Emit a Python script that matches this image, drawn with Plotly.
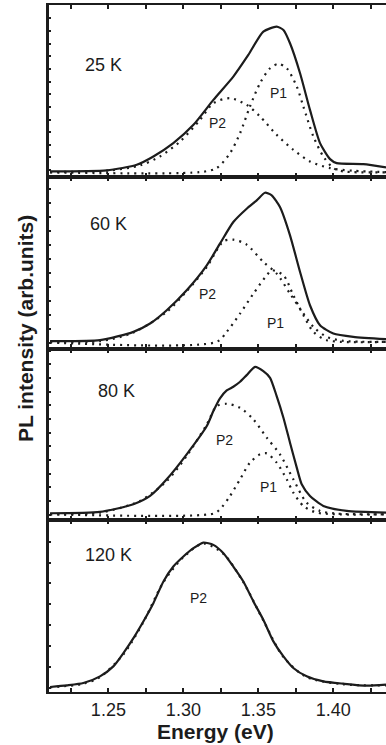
import plotly.graph_objects as go

# ---------------- data (energy in eV, PL intensity in arb. units) ----------------
# Panel 25 K
e_25 = [1.2111, 1.2489, 1.2689, 1.2800, 1.2933, 1.3067, 1.3200, 1.3333, 1.3433, 1.3533,
        1.3622, 1.3667, 1.3711, 1.3778, 1.3844, 1.3911, 1.3978, 1.4022, 1.4200, 1.4351]
i_25 = [16, 19, 36, 61, 101, 156, 231, 301, 366, 436, 451, 441, 401, 311, 201, 101, 53, 41, 38, 28]
e_25_p2 = [1.2111, 1.2511, 1.2711, 1.2844, 1.2978, 1.3111, 1.3200, 1.3311, 1.3422, 1.3511,
           1.3622, 1.3733, 1.3844, 1.3978, 1.4133, 1.4351]
i_25_p2 = [14, 19, 34, 61, 106, 171, 221, 236, 216, 181, 126, 81, 46, 26, 18, 14]
e_25_p1 = [1.2111, 1.3111, 1.3222, 1.3311, 1.3378, 1.3444, 1.3511, 1.3578, 1.3633, 1.3689,
           1.3756, 1.3800, 1.3867, 1.3933, 1.4000, 1.4067, 1.4351]
i_25_p1 = [13, 14, 26, 71, 131, 211, 281, 326, 339, 326, 271, 211, 121, 61, 26, 16, 13]

# Panel 60 K
e_60 = [1.2111, 1.2444, 1.2667, 1.2778, 1.2889, 1.3022, 1.3156, 1.3244, 1.3333, 1.3422,
        1.3489, 1.3544, 1.3589, 1.3644, 1.3711, 1.3778, 1.3844, 1.3911, 1.4000, 1.4133, 1.4351]
i_60 = [22, 25, 50, 75, 115, 175, 250, 315, 380, 420, 445, 468, 460, 425, 340, 230, 130, 70, 45, 35, 28]
e_60_p2 = [1.2111, 1.2444, 1.2667, 1.2889, 1.3022, 1.3156, 1.3267, 1.3333, 1.3422, 1.3533,
           1.3622, 1.3711, 1.3778, 1.3867, 1.3956, 1.4067, 1.4351]
i_60_p2 = [20, 22, 48, 110, 172, 245, 322, 327, 312, 260, 225, 165, 120, 65, 35, 23, 20]
e_60_p1 = [1.2111, 1.3222, 1.3289, 1.3378, 1.3467, 1.3556, 1.3589, 1.3667, 1.3733, 1.3800,
           1.3867, 1.3956, 1.4351]
i_60_p1 = [18, 20, 50, 105, 165, 220, 235, 220, 160, 100, 50, 25, 20]

# Panel 80 K
e_80 = [1.2111, 1.2444, 1.2667, 1.2778, 1.2889, 1.3022, 1.3156, 1.3200, 1.3244, 1.3289,
        1.3333, 1.3378, 1.3422, 1.3478, 1.3533, 1.3578, 1.3622, 1.3667, 1.3711, 1.3756,
        1.3789, 1.3844, 1.3933, 1.4089, 1.4351]
i_80 = [21, 25, 48, 73, 123, 198, 283, 328, 366, 390, 401, 416, 436, 461, 448, 428, 373,
        308, 233, 158, 108, 73, 43, 28, 23]
e_80_p2 = [1.2111, 1.2444, 1.2711, 1.2889, 1.3022, 1.3156, 1.3222, 1.3289, 1.3378, 1.3467,
           1.3556, 1.3644, 1.3733, 1.3822, 1.3911, 1.4022, 1.4351]
i_80_p2 = [18, 23, 58, 118, 193, 288, 343, 350, 338, 303, 248, 198, 123, 53, 28, 20, 18]
e_80_p1 = [1.2111, 1.3200, 1.3244, 1.3311, 1.3378, 1.3444, 1.3511, 1.3556, 1.3622, 1.3689,
           1.3733, 1.3800, 1.3889, 1.4351]
i_80_p1 = [18, 20, 33, 73, 123, 173, 198, 201, 173, 123, 83, 43, 23, 18]

# Panel 120 K
e_120 = [1.2111, 1.2222, 1.2333, 1.2444, 1.2533, 1.2600, 1.2667, 1.2733, 1.2800, 1.2867,
         1.2933, 1.3000, 1.3067, 1.3133, 1.3200, 1.3267, 1.3333, 1.3400, 1.3467, 1.3533,
         1.3600, 1.3667, 1.3733, 1.3822, 1.3933, 1.4067, 1.4222, 1.4351]
i_120 = [15, 20, 27, 47, 77, 117, 162, 212, 267, 332, 377, 407, 432, 449, 442, 417, 377,
         332, 272, 217, 152, 107, 72, 47, 32, 25, 19, 22]
e_120_p2 = [1.2111, 1.2333, 1.2444, 1.2600, 1.2733, 1.2867, 1.3000, 1.3133, 1.3267, 1.3400,
            1.3533, 1.3667, 1.3822, 1.4067, 1.4351]
i_120_p2 = [14, 25, 45, 113, 210, 330, 405, 446, 415, 330, 215, 105, 45, 23, 20]

temps = ["25 K", "60 K", "80 K", "120 K"]
solid_e = [e_25, e_60, e_80, e_120]
solid_i = [i_25, i_60, i_80, i_120]
fits = [
    [(e_25_p1, i_25_p1), (e_25_p2, i_25_p2)],
    [(e_60_p1, i_60_p1), (e_60_p2, i_60_p2)],
    [(e_80_p1, i_80_p1), (e_80_p2, i_80_p2)],
    [(e_120_p2, i_120_p2)],
]
# label positions (energy, intensity)
temp_pos = [(1.2465, 336), (1.2498, 375), (1.2551, 387), (1.2498, 412)]
peak_labels = [
    [("P1", 1.3631, 252), ("P2", 1.3225, 162)],
    [("P2", 1.3158, 165), ("P1", 1.3611, 78)],
    [("P2", 1.3271, 240), ("P1", 1.3565, 99)],
    [("P2", 1.3098, 283)],
]
y_tick_step = [38, 42, 41, 63]
y_tick_start = [20, 18, 17, 11]

x_tickvals = [1.225, 1.25, 1.275, 1.30, 1.325, 1.35, 1.375, 1.40, 1.425]
x_ticktext = ["", "1.25", "", "1.30", "", "1.35", "", "1.40", ""]

FONT = "Liberation Sans, Arial, sans-serif"
INK = "#1c1c1c"

fig = go.Figure()
for k in range(4):
    n = k + 1
    xa = "x" if n == 1 else f"x{n}"
    ya = "y" if n == 1 else f"y{n}"
    for fe, fi in fits[k]:
        fig.add_trace(go.Scatter(x=fe, y=fi, xaxis=xa, yaxis=ya, mode="lines",
                                 line=dict(color=INK, width=2.2, dash="2px,5px", shape="spline",
                                           smoothing=0.8),
                                 showlegend=False, hoverinfo="skip"))
    fig.add_trace(go.Scatter(x=solid_e[k], y=solid_i[k], xaxis=xa, yaxis=ya, mode="lines",
                             line=dict(color=INK, width=2.2, shape="spline", smoothing=0.6),
                             showlegend=False))
    tx, ty = temp_pos[k]
    fig.add_annotation(x=tx, y=ty, xref=xa, yref=ya, text=temps[k], showarrow=False,
                       font=dict(family=FONT, size=18, color=INK))
    for lab, lx, ly in peak_labels[k]:
        fig.add_annotation(x=lx, y=ly, xref=xa, yref=ya, text=lab, showarrow=False,
                           font=dict(family=FONT, size=14, color=INK))

    dom = [1 - n / 4, 1 - (n - 1) / 4]
    xkey = "xaxis" if n == 1 else f"xaxis{n}"
    ykey = "yaxis" if n == 1 else f"yaxis{n}"
    fig.update_layout(**{
        xkey: dict(range=[1.2104, 1.4351], anchor=ya, showline=True, linewidth=2.2,
                   linecolor=INK, mirror="ticks", ticks="inside", ticklen=4, tickwidth=2,
                   tickcolor=INK, tickvals=x_tickvals, ticktext=x_ticktext,
                   showticklabels=(n == 4), showgrid=False, zeroline=False,
                   tickfont=dict(family=FONT, size=18, color=INK),
                   matches=None if n == 1 else "x"),
        ykey: dict(range=[0, 516], domain=dom, anchor=xa, showline=True, linewidth=2.5,
                   linecolor=INK, mirror=False, ticks="inside", ticklen=2.5, tickwidth=1.5,
                   tickcolor=INK, dtick=y_tick_step[k], tick0=y_tick_start[k],
                   showticklabels=False, showgrid=False, zeroline=False),
    })

fig.add_annotation(xref="paper", yref="paper", x=-0.0682, y=0.5284, text="<b>PL intensity (arb.units)</b>",
                   textangle=-90, showarrow=False, xanchor="center", yanchor="middle",
                   font=dict(family=FONT, size=21, color=INK))
fig.add_annotation(xref="paper", yref="paper", x=0.4926, y=-0.0568, text="<b>Energy (eV)</b>",
                   showarrow=False, xanchor="center", yanchor="middle",
                   font=dict(family=FONT, size=21, color=INK))

fig.update_layout(width=386, height=745, margin=dict(l=49, r=0, t=5, b=53),
                  paper_bgcolor="white", plot_bgcolor="white", showlegend=False)
fig.write_html("out.html", config={"displayModeBar": False},
               post_script="document.body.style.margin='0px';document.body.style.overflow='hidden';")
